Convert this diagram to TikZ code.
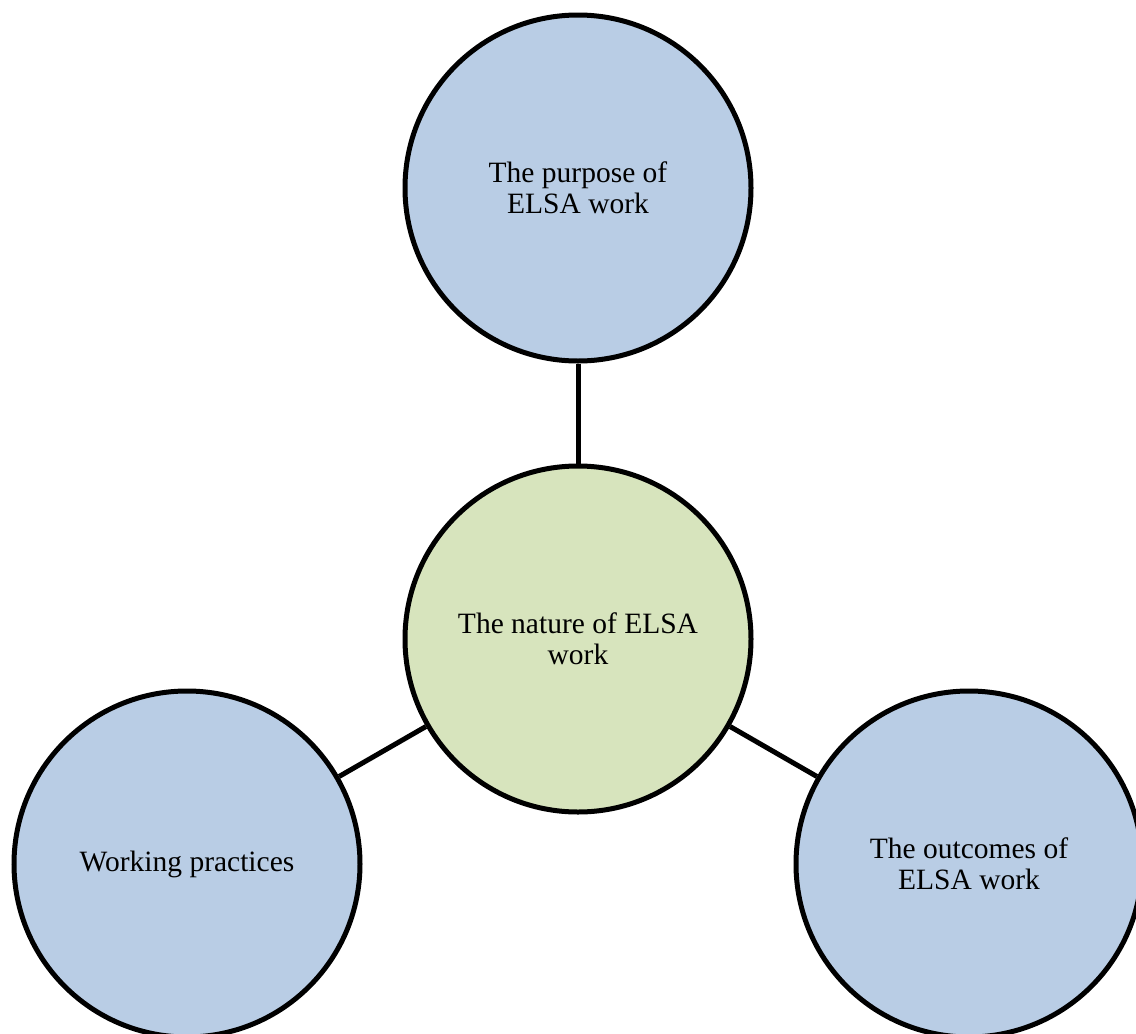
\documentclass[tikz,border=0pt]{standalone}
\usepackage{fontspec}
\setmainfont{Liberation Serif}
\definecolor{bubbleblue}{HTML}{B9CDE5}
\definecolor{bubblegreen}{HTML}{D7E4BD}
\begin{document}
\begin{tikzpicture}[x=1pt,y=-1pt,
  bubble/.style={circle, draw=black, line width=5pt, minimum size=346pt, inner sep=0pt,
    align=center, font=\fontsize{29.5}{31}\selectfont},
  link/.style={draw=black, line width=5pt}]
  \useasboundingbox (0,0) rectangle (1136,1034);
  \begin{scope}
    \clip (0,0) rectangle (1136,1034);
    \node[bubble, fill=bubbleblue] (purpose) at (578,188) {The purpose of\\ELSA work};
    \node[bubble, fill=bubblegreen] (nature) at (578,639) {The nature of ELSA\\work};
    \node[bubble, fill=bubbleblue] (practice) at (187,864) {Working practices};
    \node[bubble, fill=bubbleblue] (outcome) at (969,864) {The outcomes of\\ELSA work};
    \draw[link] (purpose) -- (nature);
    \draw[link] (nature) -- (practice);
    \draw[link] (nature) -- (outcome);
  \end{scope}
\end{tikzpicture}
\end{document}
